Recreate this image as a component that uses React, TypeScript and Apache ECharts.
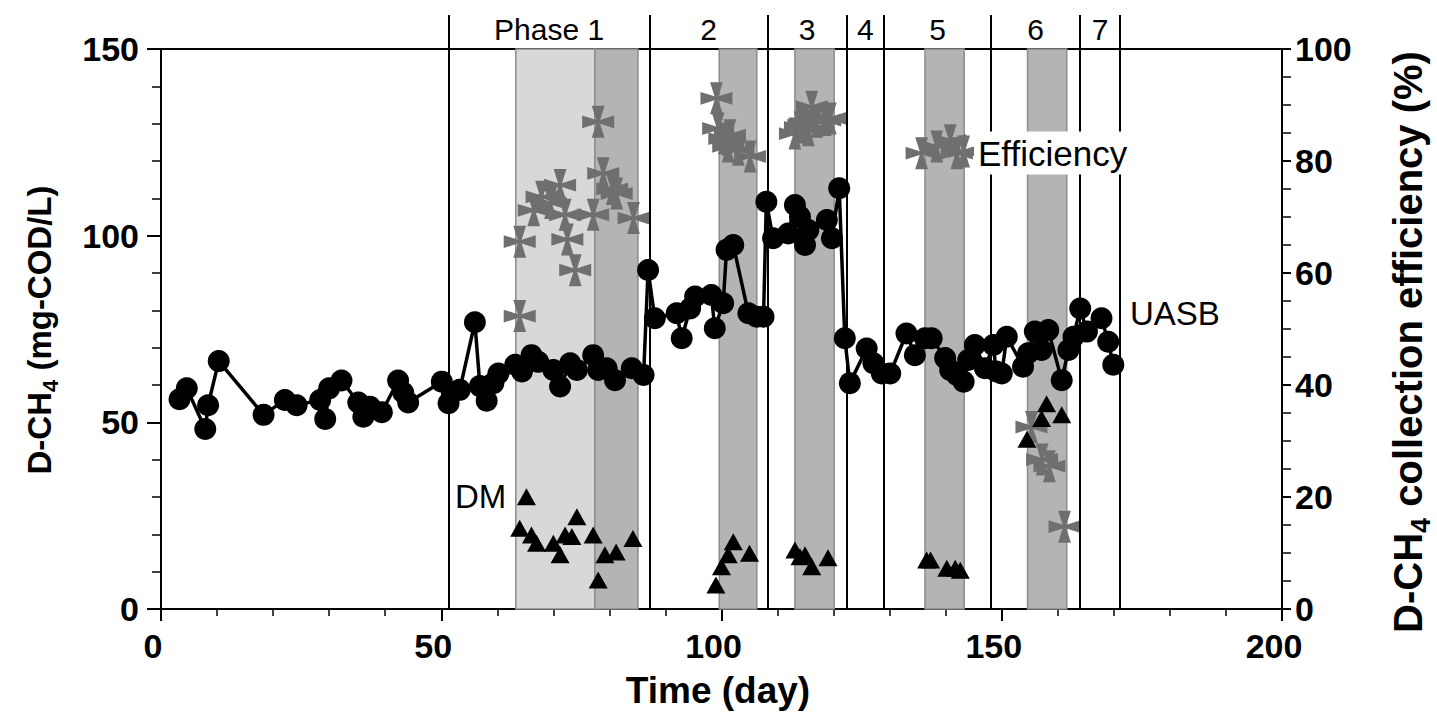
import React, { useEffect, useRef } from "react";
import * as echarts from "echarts";

// UASB dissolved methane (mg-COD/L) [day, value]
const uasb: [number, number][] = [
  [3.3, 56.2], [4.6, 59.1], [7.9, 48.2], [8.4, 54.6], [10.3, 66.4], [18.3, 52], [22.1, 56], [24.2, 54.6],
  [28.4, 56], [29.3, 50.9], [30, 59.1], [32.2, 61.2], [35.2, 55.3], [36.1, 51.5], [37.3, 54.2], [39.4, 52.7],
  [42.3, 61.2], [43.2, 58], [44.1, 55.3], [50.1, 60.9], [51.3, 55.1], [51.9, 57.8], [53.3, 58.7], [56, 76.8],
  [56.9, 59.7], [58.1, 55.8], [59.3, 60.5], [60.2, 63.1], [63.2, 65.4], [64.4, 63.6], [66.1, 68], [67.3, 66.2],
  [70, 64], [71.2, 59.6], [73, 65.8], [74.2, 64], [77.1, 68], [78, 64], [79.5, 64.5], [81, 61.3],
  [84, 64.5], [86.1, 62.7], [86.9, 90.8], [88.1, 77.9], [92, 79.2], [92.9, 72.5], [94.4, 80.5], [95.3, 83.7],
  [98.2, 84.1], [98.8, 75.2], [100.3, 81.9], [100.9, 96.2], [102.1, 97.5], [104.8, 79.2], [106.3, 78.3], [107.5, 78.3],
  [108, 109.1], [109.2, 99.3], [111.9, 100.6], [113.1, 108.2], [114, 105.1], [114.9, 97.5], [115.5, 101.5], [118.8, 104.2],
  [119.7, 99.3], [121, 112.7], [122, 72.5], [122.9, 60.5], [125.9, 69.8], [127.1, 65.8], [128.6, 63.1], [130.1, 63.1],
  [133, 73.8], [134.5, 68], [136.3, 72.5], [137.5, 72.5], [139.9, 67.2], [140.8, 64], [142, 62.7], [143.2, 60.9],
  [144, 66.7], [145.2, 70.7], [147, 64.5], [148.5, 70.7], [149, 63.6], [150, 63.1], [150.9, 72.9], [153.8, 64.9],
  [154.7, 68.5], [155.9, 74.3], [157.1, 69.4], [158.3, 74.7], [160.7, 61.3], [161.9, 69.4], [162.8, 72.9], [164, 80.5],
  [165.2, 74.3], [167.8, 77.9], [169, 71.6], [169.9, 65.4],
];

// DM dissolved methane (mg-COD/L) [day, value]
const dm: [number, number][] = [
  [65.2, 30.1], [64, 21.6], [66.1, 19.8], [67, 17.6], [70, 17.6], [71.2, 14.5], [72.1, 19.8], [73.3, 19.4],
  [74.2, 24.7], [77.1, 19.8], [78, 7.8], [79.2, 14.5], [81.2, 15.3], [84.2, 18.9],
  [99, 6.4], [100, 11.3], [101.2, 14.5], [102.1, 18], [105, 14.9],
  [113.1, 15.8], [114, 14], [114.9, 14.5], [116.1, 11.3], [119, 13.7],
  [136.6, 13.1], [137.3, 13.1], [140.2, 10.9], [141.7, 10.9], [142.6, 10.4],
  [154.5, 45.5], [157.1, 51], [158, 55], [160.7, 52],
];

// D-CH4 collection efficiency (%) [day, value]
const efficiency: [number, number][] = [
  [64, 52.3], [64, 65.6], [66.5, 71.2], [67.9, 73.6], [69.5, 72.5], [71.2, 75.7], [72.1, 70.4], [72.5, 66],
  [73.9, 60.5], [77.1, 70.4], [78, 87], [78.9, 77.8], [80.5, 75], [81.3, 74.2], [84.3, 69.8],
  [99.1, 91.2], [99.4, 85.8], [100.5, 84], [101.2, 82.6], [101.5, 84.6], [103, 82], [105.1, 80.8],
  [113.1, 84.9], [114, 86], [114.6, 86.4], [115.5, 85.5], [116.1, 89.7], [117, 87], [118.5, 87.3], [119.4, 87.6],
  [135.7, 81.4], [138.4, 82.6], [140.8, 83.7], [142, 81.4], [143.2, 81.7],
  [155.3, 32.5], [157.2, 26.7], [158.5, 25.5], [161.2, 14.7],
];

const phaseBoundaries = [51.3, 87.2, 108.2, 122.3, 129, 148.1, 164, 171.1];
const phaseNames = ["Phase 1", "2", "3", "4", "5", "6", "7"];
const lightBands: [number, number][] = [[63.3, 77.4]];
const darkBands: [number, number][] = [[77.4, 85.1], [99.6, 106.3], [113.1, 120.1], [136.3, 143.3], [154.6, 161.6]];

const FONT = '"Liberation Sans", Arial, Helvetica, sans-serif';
const STAR =
  "path://M30,0 L70,0 L56,44 L100,30 L100,70 L56,56 L70,100 L30,100 L44,56 L0,70 L0,30 L44,44 Z";

export default function App() {
  const ref = useRef<HTMLDivElement>(null);
  useEffect(() => {
    if (!ref.current) return;
    const chart = echarts.init(ref.current, undefined, { renderer: "svg" });
    const gridL = 161, gridR = 155, gridB = 109;
    const tickLabel = { color: "#000", fontFamily: FONT, fontWeight: "bold" as const, fontSize: 34 };
    const bandData = [
      ...lightBands.map(([a, b]) => [
        { xAxis: a, itemStyle: { color: "#d8d8d8", borderColor: "#8c8c8c", borderWidth: 1.5 } },
        { xAxis: b },
      ]),
      ...darkBands.map(([a, b]) => [
        { xAxis: a, itemStyle: { color: "#b4b4b4", borderColor: "#8c8c8c", borderWidth: 1.5 } },
        { xAxis: b },
      ]),
    ];
    const labelY = 0.975;
    const phaseLabelData = phaseNames.map((n, i) => ({
      name: n,
      value: [(phaseBoundaries[i] + phaseBoundaries[i + 1]) / 2, labelY],
    }));
    const txt = (text: string, x: number, y: number, size = 33) => ({
      type: "text",
      x,
      y,
      z: 100,
      style: {
        text,
        fill: "#000",
        font: `${size}px ${FONT}`,
        align: "left",
        verticalAlign: "middle",
        backgroundColor: "#fff",
        padding: [4, 4, 4, 4],
      },
    });
    const titleRich = (size: number) => ({
      a: { fontFamily: FONT, fontWeight: "bold", fontSize: size, lineHeight: size + 12, verticalAlign: "middle" },
      s: { fontFamily: FONT, fontWeight: "bold", fontSize: Math.round(size * 0.68), verticalAlign: "bottom" },
    });
    chart.setOption({
      animation: false,
      grid: [
        { left: gridL, right: gridR, top: 49, bottom: gridB, show: true, borderColor: "#000", borderWidth: 2, backgroundColor: "transparent" },
        { left: gridL, right: gridR, top: 15, bottom: gridB, show: false },
      ],
      xAxis: [
        {
          type: "value", gridIndex: 0, min: 0, max: 200, interval: 50,
          axisLine: { lineStyle: { color: "#000", width: 2 } },
          axisTick: { show: true, inside: false, length: 12, lineStyle: { color: "#000", width: 2 } },
          minorTick: { show: true, splitNumber: 5, length: 7, lineStyle: { color: "#000", width: 1.5 } },
          splitLine: { show: false },
          axisLabel: { ...tickLabel, margin: 20, padding: [0, 16, 0, 0] },
        },
        { type: "value", gridIndex: 1, min: 0, max: 200, show: false },
      ],
      yAxis: [
        {
          type: "value", gridIndex: 0, min: 0, max: 150, interval: 50, position: "left",
          axisLine: { show: true, lineStyle: { color: "#000", width: 2 } },
          axisTick: { show: true, length: 14, lineStyle: { color: "#000", width: 2 } },
          minorTick: { show: true, splitNumber: 5, length: 9, lineStyle: { color: "#000", width: 1.5 } },
          splitLine: { show: false },
          axisLabel: { ...tickLabel, margin: 22 },
        },
        {
          type: "value", gridIndex: 0, min: 0, max: 100, interval: 20, position: "right",
          axisLine: { show: true, lineStyle: { color: "#000", width: 2 } },
          axisTick: { show: true, length: 9, lineStyle: { color: "#000", width: 2 } },
          minorTick: { show: true, splitNumber: 4, length: 9, lineStyle: { color: "#000", width: 1.5 } },
          splitLine: { show: false },
          axisLabel: { ...tickLabel, margin: 13 },
        },
        { type: "value", gridIndex: 1, min: 0, max: 1, show: false },
      ],
      series: [
        {
          type: "line", xAxisIndex: 0, yAxisIndex: 0, data: [], z: 0, silent: true,
          markArea: { silent: true, data: bandData },
        },
        {
          type: "line", xAxisIndex: 1, yAxisIndex: 2, data: [], z: 1, silent: true,
          markLine: {
            silent: true, symbol: ["none", "none"], label: { show: false },
            lineStyle: { color: "#000", width: 2, type: "solid" },
            data: phaseBoundaries.map((b) => ({ xAxis: b })),
          },
        },
        {
          type: "scatter", xAxisIndex: 1, yAxisIndex: 2, data: phaseLabelData, symbolSize: 0, z: 2, silent: true,
          itemStyle: { opacity: 1 },
          label: { show: true, position: "inside", formatter: "{b}", color: "#000", opacity: 1, fontFamily: FONT, fontSize: 30 },
        },
        {
          name: "Efficiency", type: "scatter", xAxisIndex: 0, yAxisIndex: 1, data: efficiency,
          symbol: STAR, symbolSize: 32, itemStyle: { color: "#6f6f6f", opacity: 1 }, z: 3,
        },
        {
          name: "DM", type: "scatter", xAxisIndex: 0, yAxisIndex: 0, data: dm,
          symbol: "triangle", symbolSize: [19, 17], itemStyle: { color: "#000", opacity: 1 }, z: 4,
        },
        {
          name: "UASB", type: "line", xAxisIndex: 0, yAxisIndex: 0, data: uasb,
          symbol: "circle", symbolSize: 22, showSymbol: true,
          lineStyle: { color: "#000", width: 3.5 }, itemStyle: { color: "#000", borderWidth: 0 }, z: 5,
        },
      ],
      graphic: [
        txt("DM", 451, 496),
        txt("Efficiency", 974, 153, 35),
        txt("UASB", 1126, 313),
        {
          type: "text", x: 718, y: 690, z: 100,
          style: { text: "Time (day)", fill: "#000", font: `bold 37px ${FONT}`, align: "center", verticalAlign: "middle" },
        },
        {
          type: "text", x: 39, y: 330, rotation: Math.PI / 2, z: 100,
          style: { text: "{a|D-CH}{s|4}{a| (mg-COD/L)}", rich: titleRich(33), fill: "#000", align: "center", verticalAlign: "middle" },
        },
        {
          type: "text", x: 1408, y: 342, rotation: Math.PI / 2, z: 100,
          style: { text: "{a|D-CH}{s|4}{a| collection efficiency (%)}", rich: titleRich(40), fill: "#000", align: "center", verticalAlign: "middle" },
        },
      ],
    });
    return () => chart.dispose();
  }, []);
  return <div ref={ref} style={{ position: "fixed", left: 0, top: 0, width: 1437, height: 718, background: "#fff" }} />;
}
